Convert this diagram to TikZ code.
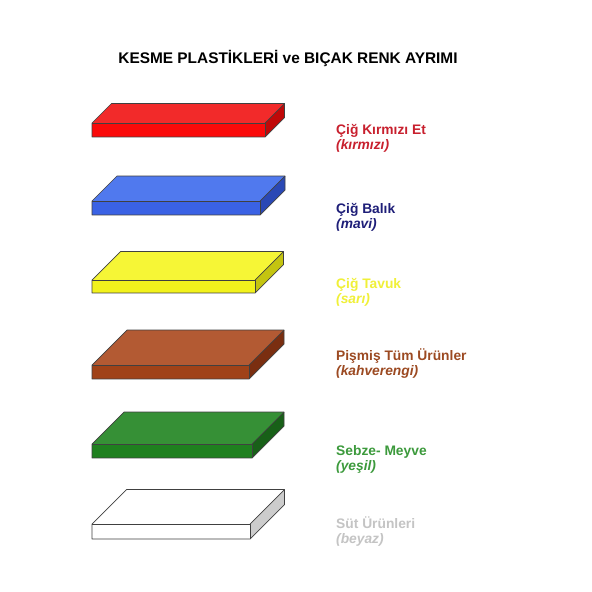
\documentclass[tikz,border=0pt]{standalone}
\usepackage{fontspec}
\setmainfont{Liberation Sans}
\definecolor{rTop}{HTML}{F22A2A}\definecolor{rFr}{HTML}{FA0A0A}\definecolor{rSd}{HTML}{C00808}\definecolor{rTx}{HTML}{C8202E}
\definecolor{bTop}{HTML}{5079EE}\definecolor{bFr}{HTML}{3A62E4}\definecolor{bSd}{HTML}{2A48B5}\definecolor{bTx}{HTML}{1E1E78}
\definecolor{yTop}{HTML}{F6F636}\definecolor{yFr}{HTML}{F2F21C}\definecolor{ySd}{HTML}{C4C410}\definecolor{yTx}{HTML}{F0F038}
\definecolor{nTop}{HTML}{B35A33}\definecolor{nFr}{HTML}{A04218}\definecolor{nSd}{HTML}{7A2E10}\definecolor{nTx}{HTML}{9C4A22}
\definecolor{gTop}{HTML}{369036}\definecolor{gFr}{HTML}{1F801F}\definecolor{gSd}{HTML}{186018}\definecolor{gTx}{HTML}{3C9A3C}
\definecolor{wTop}{HTML}{FFFFFF}\definecolor{wFr}{HTML}{FFFFFF}\definecolor{wSd}{HTML}{CCCCCC}\definecolor{wTx}{HTML}{C4C4C4}
\tikzset{
  edge/.style={draw=black!75,line width=0.7pt,line join=round},
  lbl/.style={anchor=base west,inner sep=0pt,font=\fontsize{13.8}{15}\selectfont\bfseries},
  sublbl/.style={anchor=base west,inner sep=0pt,font=\fontsize{13.8}{15}\selectfont\bfseries\itshape},
  ttl/.style={anchor=base,inner sep=0pt,font=\fontsize{15.4}{17}\selectfont\bfseries}
}
% #1 front top y, #2 bottom y, #3 front right x, #4 depth, #5 colour prefix
\newcommand\slabdraw[5]{%
  \fill[#5Top] (92,#1) -- ({92+#4},{#1-#4}) -- ({#3+#4},{#1-#4}) -- (#3,#1) -- cycle;
  \fill[#5Fr] (92,#1) rectangle (#3,#2);
  \fill[#5Sd] (#3,#1) -- ({#3+#4},{#1-#4}) -- ({#3+#4},{#2-#4}) -- (#3,#2) -- cycle;
  \draw[edge] (92,#2) -- (92,#1) -- ({92+#4},{#1-#4}) -- ({#3+#4},{#1-#4}) -- ({#3+#4},{#2-#4}) -- (#3,#2) -- cycle;
  \draw[edge] (92,#1) -- (#3,#1) -- (#3,#2);
  \draw[edge] (#3,#1) -- ({#3+#4},{#1-#4});
}
\begin{document}
\begin{tikzpicture}[x=1pt,y=-1pt]
\useasboundingbox (0,0) rectangle (592,592);
\fill[white] (0,0) rectangle (592,592);
\node[ttl] (title) at (288,63) {KESME PLASTİKLERİ ve BIÇAK RENK AYRIMI};

\slabdraw{123}{137}{265}{19.5}{r}
\slabdraw{201}{215}{260}{25}{b}
\slabdraw{280}{293}{255}{28.5}{y}
\slabdraw{365}{379}{249}{35}{n}
\slabdraw{444}{458}{252}{32}{g}
\slabdraw{524}{539}{250}{34.5}{w}

\node[lbl,text=rTx] (l1) at (336,134) {Çiğ Kırmızı Et};
\node[sublbl,text=rTx] (s1) at (336,149) {(kırmızı)};
\node[lbl,text=bTx] (l2) at (336,213) {Çiğ Balık};
\node[sublbl,text=bTx] (s2) at (336,228) {(mavi)};
\node[lbl,text=yTx] (l3) at (336,288) {Çiğ Tavuk};
\node[sublbl,text=yTx] (s3) at (336,303) {(sarı)};
\node[lbl,text=nTx] (l4) at (336,360) {Pişmiş Tüm Ürünler};
\node[sublbl,text=nTx] (s4) at (336,375) {(kahverengi)};
\node[lbl,text=gTx] (l5) at (336,455) {Sebze- Meyve};
\node[sublbl,text=gTx] (s5) at (336,470) {(yeşil)};
\node[lbl,text=wTx] (l6) at (336,528) {Süt Ürünleri};
\node[sublbl,text=wTx] (s6) at (336,543) {(beyaz)};
\end{tikzpicture}
\end{document}
